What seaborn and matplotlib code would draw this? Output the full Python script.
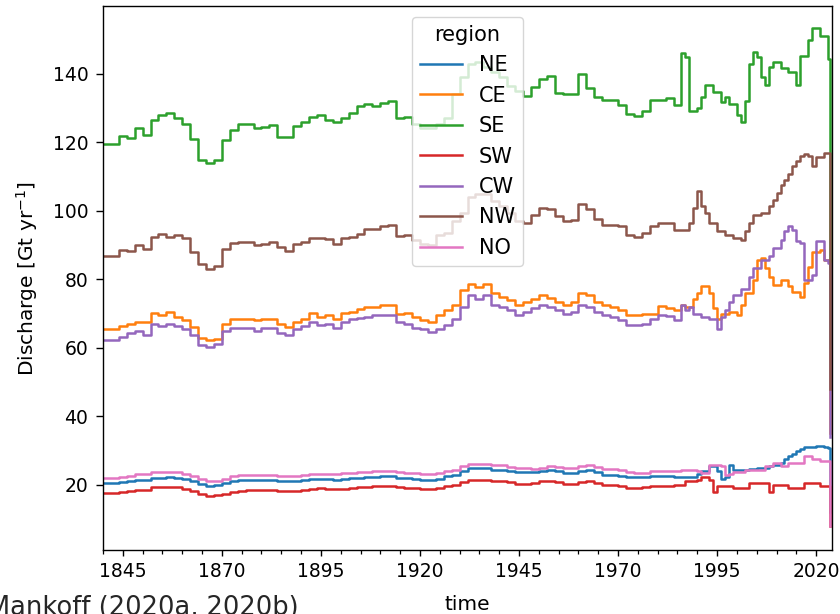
import matplotlib
matplotlib.use("Agg")
import matplotlib.pyplot as plt
import numpy as np
import pandas as pd
import seaborn as sns
from matplotlib.ticker import FixedLocator, MultipleLocator

plt.rcParams['font.family'] = ['DejaVu Sans']
plt.rcParams['font.size'] = 13.5

# ---- time grid (decimal years) ----
YEARS = list(range(1840, 1985, 2)) + list(range(1986, 2024)) + [2023.6]

REGIONS = ['NE', 'CE', 'SE', 'SW', 'CW', 'NW', 'NO']

# ---- discharge values [Gt/yr] ----
SE_1 = [119.6, 119.6, 122, 121.4, 124.2, 122.2, 126.4, 128, 128.5, 127, 125.4, 121, 115, 114, 115,
        120.7, 123.5, 125.4, 125.4, 124.2, 124.6, 125, 121.7, 121.7,
        124.9, 125.9, 127.5, 128, 126.4, 126, 127, 128.5, 130.6, 131.1, 130.6, 131.6, 132, 127.2,
        127.3, 125.4, 124.3, 124.2, 125.4]
SE_2 = [127, 134, 139, 143, 143.5, 142, 140.5, 139, 136.5, 135, 133.5, 136.2, 138.6, 139.3, 134.5,
        134, 134, 140, 136, 133.2, 132.3, 132.3, 130.8, 128.3, 127.6, 129.3, 132.5, 132.5, 133, 131]
SE_3 = [146, 145, 129.3, 129.3, 130, 133.2, 136.7, 136.7, 134.7, 134.7, 131.8, 133.2, 131.3, 131.3,
        127.9, 125.9, 132.2, 143, 146.5, 145, 139.1, 136.7, 142.1, 143.5, 143.5, 141.6, 141.6, 140.6,
        140.6, 136.7, 145.3, 145.3, 149.9, 153.3, 153.3, 151, 151, 144.5, 60]

NW_1 = [86.8, 86.8, 88.5, 88.3, 89.9, 88.8, 92.5, 93.2, 92.5, 93, 92, 88, 84.5, 83, 84, 88.8, 90.6,
        90.9, 90.9, 89.9, 90.4, 90.9, 89.4, 88.3,
        90.4, 90.9, 92.2, 92, 91.7, 90.4, 92, 92.5, 93.3, 94.8, 94.6, 95.6, 95.9, 92.7, 93, 91.5,
        90.4, 90, 93]
NW_2 = [93.5, 97, 99.5, 104, 105, 105, 103, 101.5, 99.4, 97, 96.5, 98.9, 100.9, 100.4, 98.4, 97, 97.4,
        101.9, 100.4, 97.5, 96, 96, 95.5, 93, 92.5, 93.5, 95.5, 96.5, 96.5, 94.5]
NW_3 = [94.5, 94.5, 96.5, 100.9, 105.8, 101.4, 99.4, 96.5, 96.5, 94, 94, 93, 93, 92, 92, 91.6, 94,
        96.5, 98.9, 98.9, 99.4, 99.4, 101.4, 103.3, 105.3, 107.7, 108.9, 110.7, 113, 114.6, 116, 116.6,
        116, 113.1, 115.6, 115.6, 117, 117, 48]

CE_1 = [65.4, 65.4, 66.5, 66.9, 67.5, 67.5, 70.1, 69.6, 70.4, 69, 68, 66, 63, 62.2, 62.5, 66.9, 68.5,
        68.5, 68.5, 68, 68.3, 68.3, 66.9, 66.1,
        67.5, 68.5, 70.1, 69, 69.5, 68.5, 70.1, 70.6, 71.4, 71.9, 71.9, 72.4, 72.4, 70, 70.1, 69, 68,
        67.5, 69.5]
CE_2 = [71, 72.4, 77, 78.5, 77.8, 78.5, 75.9, 74.9, 73.9, 72.4, 73.4, 74.4, 75.4, 74.6, 73.4, 72.6,
        73.4, 75.9, 75.4, 73.4, 72.4, 71.9, 71, 69.5, 69.5, 70, 70, 72.3, 71.7, 71]
CE_3 = [72.4, 71.9, 71.9, 74.4, 75.9, 78.1, 78.1, 75.9, 71.5, 68.5, 70, 70, 70.5, 70.5, 69.5, 72.4,
        75.9, 75.9, 79.8, 85.7, 86.2, 83.2, 80.8, 78.3, 78.3, 79.8, 79.8, 78.1, 76.4, 76.4, 74.9, 78.8,
        83.7, 88.1, 88.1, 88.6, 85.7, 85.7, 35]

CW_1 = [62.2, 62.2, 63.3, 64.3, 64.9, 63.8, 66.9, 66.4, 67, 66.4, 65.4, 63.8, 60.7, 60.2, 61, 64.9,
        65.9, 65.9, 65.9, 64.9, 65.7, 65.7, 64.3, 63.8,
        65.4, 66.4, 67.5, 66.6, 66.9, 65.9, 67.5, 68.5, 68.7, 69, 69.5, 69.5, 69.5, 67.5, 66.9, 65.9,
        65.4, 64.5, 65.5]
CW_2 = [66.6, 68.5, 71.9, 75.4, 74.4, 75.4, 72.6, 71.9, 71, 69.5, 70.5, 71.5, 72.4, 71.9, 71, 70, 70.5,
        72.4, 72, 70.5, 69.5, 69, 68, 66.6, 66.6, 67, 68.5, 69.5, 69.3, 68]
CW_3 = [72.4, 71, 71.9, 70, 70, 69, 69, 68.5, 68.5, 65.6, 69, 71, 73.4, 75.4, 75.4, 77.3, 77.3, 80.8,
        83.2, 83.2, 85.7, 85.7, 86.7, 89.1, 89.1, 91.6, 94, 95.5, 94.5, 91.1, 90.6, 79.8, 79.8, 81.3,
        91.1, 91.1, 85.7, 84.7, 34]

NO_1 = [22.1, 22.1, 22.4, 22.6, 23, 23, 23.6, 23.6, 23.8, 23.6, 23, 22.5, 21.8, 21, 21.2, 21.8, 22.5,
        22.8, 22.8, 22.8, 22.8, 22.8, 22.6, 22.5,
        22.6, 22.8, 23, 23.2, 23, 23, 23.3, 23.4, 23.6, 23.8, 24, 24, 24, 23.6, 23.5, 23.3, 23, 23.2, 23.5]
NO_2 = [24, 24.4, 25.5, 26.2, 26.2, 26.2, 25.9, 25.9, 25.3, 24.9, 24.9, 24.5, 25, 25.4, 25.2, 24.9,
        24.9, 25.5, 25.7, 25.2, 24.7, 24.7, 24.3, 23.6, 23.4, 23.5, 23.9, 23.9, 23.9, 24.1]
NO_3 = [24.2, 24.2, 24.2, 24.2, 24, 23.4, 23.4, 25.9, 25.9, 25.9, 25.4, 22.8, 23.2, 23.6, 23.6, 23.6,
        24.4, 24.4, 24.4, 24.4, 24.4, 25.4, 25.4, 26.4, 26.4, 25.4, 25.4, 26.4, 26.4, 26.4, 26.4, 28.4,
        28.4, 27.4, 27.4, 26.9, 26.9, 26.9, 8]

NE_1 = [20.5, 20.6, 20.8, 21.1, 21.4, 21.4, 22, 22, 22.2, 22, 21.6, 21, 20.3, 19.6, 19.8, 20.4, 21,
        21.4, 21.5, 21.3, 21.4, 21.4, 21.1, 21,
        21, 21.3, 21.6, 21.8, 21.6, 21.5, 21.6, 21.9, 22, 22.2, 22.4, 22.5, 22.5, 22.1, 22, 21.8, 21.5,
        21.5, 21.7]
NE_2 = [22.5, 22.9, 24, 24.9, 24.9, 24.9, 24.4, 24.4, 23.9, 23.6, 23.6, 23.8, 24, 24.2, 24, 23.4, 23.4,
        24, 24.2, 23.6, 22.9, 22.9, 22.7, 22.4, 22.2, 22.4, 22.5, 22.5, 22.5, 22.4]
NE_3 = [22.4, 22.4, 22.4, 22.4, 23, 23.9, 23.9, 25.4, 25.4, 24, 21.7, 22.4, 25.9, 24.2, 24.2, 24.2,
        24.2, 24.5, 24.5, 24.9, 24.9, 24.9, 25.4, 25.9, 25.9, 26.5, 27.5, 28.4, 29, 29.8, 30.3, 30.9,
        30.9, 31.1, 31.2, 31.2, 31, 30.8, 12]

SW_1 = [17.6, 17.7, 17.9, 18.3, 18.6, 18.6, 19.2, 19.3, 19.4, 19.2, 18.8, 18.2, 17.4, 16.7, 16.9, 17.4,
        18, 18.3, 18.4, 18.4, 18.4, 18.4, 18.2, 18.1,
        18.2, 18.5, 18.8, 19, 18.8, 18.8, 18.9, 19.1, 19.3, 19.4, 19.5, 19.6, 19.6, 19.2, 19.1, 19,
        18.7, 18.7, 19]
SW_2 = [19.5, 20, 20.8, 21.5, 21.5, 21.5, 21.2, 21.2, 20.8, 20.3, 20.3, 20.6, 21, 21, 20.8, 20.3, 20.3,
        20.8, 21, 20.6, 20, 20, 19.6, 19, 19, 19.2, 19.5, 19.5, 19.5, 20]
SW_3 = [20, 21, 21, 21, 21.5, 22.4, 22.4, 21.5, 18, 19.5, 19.5, 19.5, 19.5, 19, 19, 19, 19, 20.5, 20.5,
        20.5, 20.5, 20.5, 17.8, 20, 20, 20, 20, 19, 19, 19, 19, 20.5, 20.5, 20.5, 20.5, 19.5, 19.5,
        19.5, 8]

SERIES = {
    'NE': NE_1 + NE_2 + NE_3,
    'CE': CE_1 + CE_2 + CE_3,
    'SE': SE_1 + SE_2 + SE_3,
    'SW': SW_1 + SW_2 + SW_3,
    'CW': CW_1 + CW_2 + CW_3,
    'NW': NW_1 + NW_2 + NW_3,
    'NO': NO_1 + NO_2 + NO_3,
}

XTICKS = [1845, 1870, 1895, 1920, 1945, 1970, 1995, 2020]
YTICKS = [20, 40, 60, 80, 100, 120, 140]

df = pd.concat([pd.DataFrame({'time': YEARS, 'discharge': SERIES[r], 'region': r})
                for r in REGIONS], ignore_index=True)

fig = plt.figure(figsize=(8.4, 6.14), dpi=100)
ax = fig.add_axes([0.1226, 0.104, 0.8679, 0.886])

sns.lineplot(data=df, x='time', y='discharge', hue='region', hue_order=REGIONS,
             palette=sns.color_palette('tab10', 7), drawstyle='steps-post',
             estimator=None, errorbar=None, linewidth=1.8, ax=ax)

ax.set_xlim(1840, 2024)
ax.set_ylim(0.9, 159.8)
ax.xaxis.set_major_locator(FixedLocator(XTICKS))
ax.xaxis.set_minor_locator(MultipleLocator(5))
ax.yaxis.set_major_locator(FixedLocator(YTICKS))
ax.tick_params(axis='x', which='major', length=4.3, width=1.0, pad=4.5)
ax.tick_params(axis='y', which='major', length=5.0, width=1.0, pad=5.5)
ax.tick_params(which='minor', length=3, width=0.9)
for s in ax.spines.values():
    s.set_linewidth(1.0)

ax.set_xlabel('time', fontsize=14.5, labelpad=10)
ax.set_ylabel('Discharge [Gt yr$^{-1}$]', fontsize=14.5, labelpad=9)

sns.move_legend(ax, 'upper center', title='region', frameon=True,
                fontsize=15, title_fontsize=15)

fig.text(-0.014, -0.002, 'Mankoff (2020a, 2020b)', fontsize=18.5, family=['DejaVu Sans'],
         color='#262626', ha='left', va='baseline')

fig.savefig('out.png', dpi=100)
